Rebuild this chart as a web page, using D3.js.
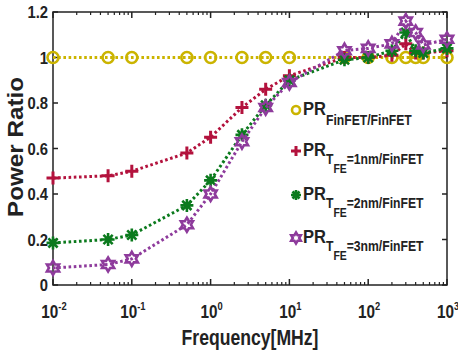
<!DOCTYPE html>
<html><head><meta charset="utf-8">
<script src="https://cdn.jsdelivr.net/npm/d3@7"></script>
<style>
body{margin:0;background:#fff;}
text{font-family:"Liberation Sans",Arial,sans-serif;font-weight:bold;fill:#222;}
</style></head><body>
<svg id="c" width="458" height="359"></svg>
<script>
const freqs = [0.01, 0.05, 0.1, 0.5, 1, 2.5, 5, 10, 50, 100, 200, 300, 400, 500, 1000];
const prFinFET = [1,1,1,1,1,1,1,1,1,1,1,1,1,1,1];
const prT1 = [0.47,0.48,0.50,0.58,0.65,0.78,0.86,0.92,1.00,1.00,1.01,1.06,1.02,1.02,1.03];
const prT2 = [0.185,0.20,0.22,0.35,0.46,0.66,0.79,0.90,0.99,1.00,1.03,1.11,1.03,1.02,1.04];
const prT3 = [0.075,0.09,0.115,0.265,0.40,0.63,0.78,0.89,1.03,1.04,1.06,1.16,1.11,1.055,1.08];
const yTicks = [0, 0.2, 0.4, 0.6, 0.8, 1, 1.2];
const yTickLabels = ["0","0.2","0.4","0.6","0.8","1","1.2"];
const xTicks = [0.01, 0.1, 1, 10, 100, 1000];
const xTickExps = ["-2","-1","0","1","2","3"];
const legendSubs = ["FinFET/FinFET", "=1nm/FinFET", "=2nm/FinFET", "=3nm/FinFET"];

const L=53, R=447, T=12, B=285;
const svg = d3.select("#c");
const x = d3.scaleLog().domain([0.01,1000]).range([L,R]);
const y = d3.scaleLinear().domain([0,1.2]).range([B,T]);

const series = [
  {vals: prFinFET, color:"#cbb400", marker:"circle"},
  {vals: prT1, color:"#b3123d", marker:"plus"},
  {vals: prT2, color:"#0b7a1d", marker:"aster"},
  {vals: prT3, color:"#8e3b9c", marker:"hex"}
];

function sText(parent, px, py, sx, anchor, size){
  const g = parent.append("g").attr("transform",`translate(${px},${py}) scale(${sx},1)`);
  return g.append("text").attr("x",0).attr("y",0).attr("text-anchor",anchor).attr("font-size",size);
}

function markerPath(type, s){
  if(type==="plus") return `M${-s},0H${s}M0,${-s}V${s}`;
  if(type==="aster"){
    let p="";
    for(let i=0;i<4;i++){const a=i*Math.PI/4;const dx=s*Math.cos(a),dy=s*Math.sin(a);p+=`M${-dx},${-dy}L${dx},${dy}`;}
    return p;
  }
  if(type==="hex"){
    const pts=[];
    for(let i=0;i<12;i++){const a=-Math.PI/2+i*Math.PI/6;const r=i%2===0?s:s*0.58;pts.push([r*Math.cos(a),r*Math.sin(a)]);}
    return "M"+pts.map(p=>p.join(",")).join("L")+"Z";
  }
  return "";
}
function drawMarker(g, type, cx, cy, color, s){
  if(type==="circle"){
    g.append("circle").attr("cx",cx).attr("cy",cy).attr("r",s).attr("fill","none").attr("stroke",color).attr("stroke-width",2.6);
  } else {
    g.append("path").attr("d",markerPath(type,s)).attr("transform",`translate(${cx},${cy})`)
      .attr("fill", "none").attr("stroke",color)
      .attr("stroke-width", type==="aster"?2.6:(type==="hex"?2.6:3));
  }
}

// axes frame
const ax = svg.append("g");
ax.append("rect").attr("x",L).attr("y",T).attr("width",R-L).attr("height",B-T).attr("fill","none").attr("stroke","#222").attr("stroke-width",1.5);

// y ticks
yTicks.forEach((v,i)=>{
  ax.append("line").attr("x1",L).attr("x2",L+5).attr("y1",y(v)).attr("y2",y(v)).attr("stroke","#222").attr("stroke-width",1.5);
  ax.append("line").attr("x1",R).attr("x2",R-5).attr("y1",y(v)).attr("y2",y(v)).attr("stroke","#222").attr("stroke-width",1.5);
  sText(ax, L-5, y(v)+6, 0.87, "end", 17).text(yTickLabels[i]);
});
// x ticks (major + minor)
const minor=[];
for(let e=-2;e<3;e++) for(let m=2;m<=9;m++) minor.push(m*Math.pow(10,e));
minor.forEach(v=>{
  ax.append("line").attr("x1",x(v)).attr("x2",x(v)).attr("y1",B).attr("y2",B-3).attr("stroke","#222").attr("stroke-width",1.2);
  ax.append("line").attr("x1",x(v)).attr("x2",x(v)).attr("y1",T).attr("y2",T+3).attr("stroke","#222").attr("stroke-width",1.2);
});
xTicks.forEach((v,i)=>{
  ax.append("line").attr("x1",x(v)).attr("x2",x(v)).attr("y1",B).attr("y2",B-6).attr("stroke","#222").attr("stroke-width",1.5);
  ax.append("line").attr("x1",x(v)).attr("x2",x(v)).attr("y1",T).attr("y2",T+6).attr("stroke","#222").attr("stroke-width",1.5);
  const t=sText(ax, x(v)+1, 318, 0.85, "middle", 18);
  t.append("tspan").text("10");
  t.append("tspan").attr("dy",-8).attr("font-size",11).text(xTickExps[i]);
});

// labels
sText(svg, 250, 345, 0.8, "middle", 22).text("Frequency[MHz]");
svg.append("text").attr("transform",`translate(23,147) rotate(-90)`).attr("text-anchor","middle")
  .attr("font-size",22).attr("textLength",140).attr("lengthAdjust","spacingAndGlyphs").text("Power Ratio");

// series
const line = d3.line().x((d,i)=>x(freqs[i])).y(d=>y(d));
series.forEach(s=>{
  const g=svg.append("g");
  g.append("path").datum(s.vals).attr("d",line).attr("fill","none").attr("stroke",s.color)
    .attr("stroke-width",3).attr("stroke-dasharray","2.6,2.6");
  s.vals.forEach((v,i)=>{
    const sz = s.marker==="circle"?5.5:(s.marker==="hex"?7:6.5);
    drawMarker(g, s.marker, x(freqs[i]), y(v), s.color, sz);
  });
});

// legend
const lg = svg.append("g");
const rowsY=[110,151,195,238];
series.forEach((s,i)=>{
  const cy=rowsY[i];
  const sz = s.marker==="circle"?4:(s.marker==="hex"?5.5:5);
  drawMarker(lg, s.marker, 296, cy, s.color, sz);
  const t=sText(lg, 303, cy+5, 0.87, "start", 19);
  t.append("tspan").text("PR");
  if(i===0){
    t.append("tspan").attr("dy",10).attr("font-size",14).text(legendSubs[i]);
  } else {
    t.append("tspan").attr("dy",8).attr("font-size",14).text("T");
    t.append("tspan").attr("dy",9).attr("font-size",12).text("FE");
    t.append("tspan").attr("dy",-9).attr("font-size",14).text(legendSubs[i]);
  }
});
</script></body></html>
